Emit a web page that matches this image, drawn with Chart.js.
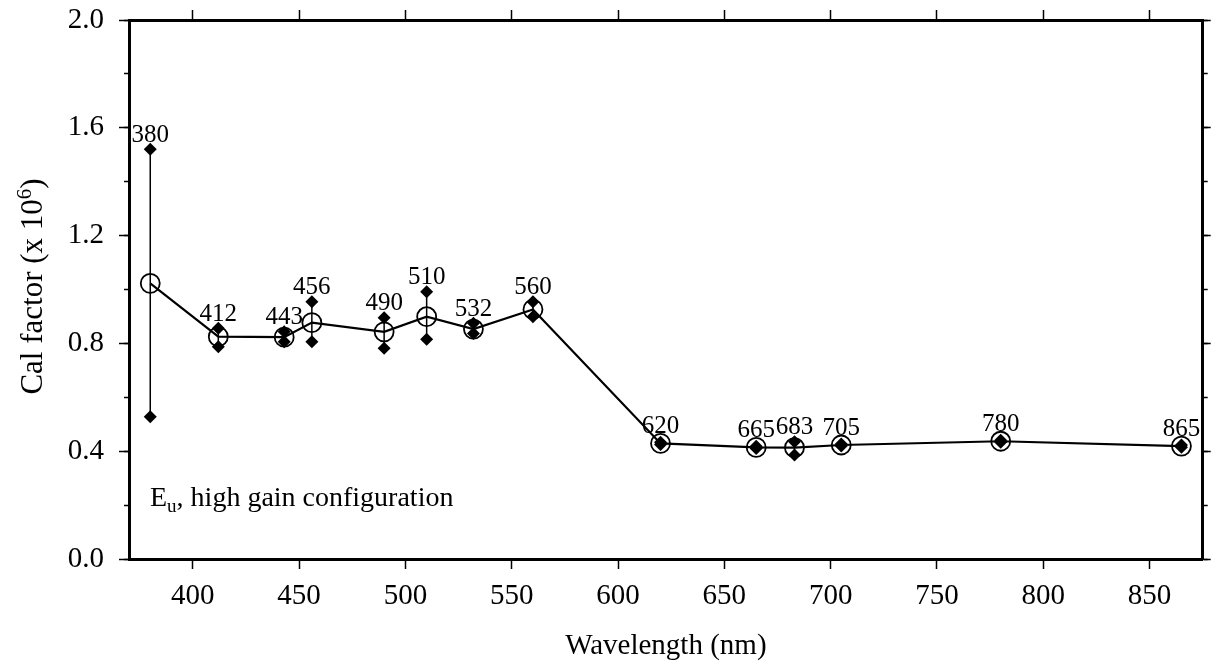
<!DOCTYPE html>
<html><head><meta charset="utf-8">
<script src="https://cdn.jsdelivr.net/npm/chart.js@4/dist/chart.umd.min.js"></script>
<style>html,body{margin:0;padding:0;background:#fff}canvas{display:block}</style>
</head><body>
<canvas id="c" width="1214" height="661"></canvas>
<script>
// ---- data ----
const wavelengths = [380, 412, 443, 456, 490, 510, 532, 560, 620, 665, 683, 705, 780, 865];
const meanCal = [1.023, 0.825, 0.823, 0.877, 0.843, 0.899, 0.853, 0.926, 0.429, 0.414, 0.413, 0.423, 0.437, 0.419];
const maxCal  = [1.520, 0.856, 0.843, 0.955, 0.895, 0.992, 0.875, 0.955, 0.433, 0.418, 0.435, 0.427, 0.441, 0.423];
const minCal  = [0.528, 0.788, 0.806, 0.806, 0.782, 0.815, 0.837, 0.899, 0.425, 0.410, 0.386, 0.419, 0.433, 0.415];
const pointLabels = wavelengths.map(String);
const yTickLabels = ['0.0', '0.4', '0.8', '1.2', '1.6', '2.0'];
const xTitle = 'Wavelength (nm)';
const yTitleParts = ['Cal factor (x 10', '6', ')'];
const noteParts = ['E', 'u', ', high gain configuration'];

const FONT = "'Liberation Serif', 'Times New Roman', serif";
Chart.defaults.font.family = FONT;
Chart.defaults.color = '#000';

const pts = (ys) => wavelengths.map((w, i) => ({ x: w, y: ys[i] }));

const tickGrid = (len) => ({ drawOnChartArea: false, drawTicks: true, tickLength: len, tickWidth: 1.5, tickColor: '#000' });
const noPad = (s) => { s.paddingTop = 0; s.paddingBottom = 0; s.paddingLeft = 0; s.paddingRight = 0; };

const extras = {
  id: 'extras',
  beforeDatasetsDraw(chart) {
    const { ctx } = chart;
    const xs = chart.scales.x, ys = chart.scales.y;
    ctx.save();
    ctx.strokeStyle = '#000';
    ctx.lineWidth = 1.5;
    wavelengths.forEach((w, i) => {
      const px = xs.getPixelForValue(w);
      ctx.beginPath();
      ctx.moveTo(px, ys.getPixelForValue(maxCal[i]));
      ctx.lineTo(px, ys.getPixelForValue(minCal[i]));
      ctx.stroke();
    });
    ctx.restore();
  },
  afterDatasetsDraw(chart) {
    const { ctx } = chart;
    const xs = chart.scales.x, ys = chart.scales.y;
    ctx.save();
    ctx.fillStyle = '#000';
    // wavelength labels above each point
    ctx.font = '25px ' + FONT;
    ctx.textAlign = 'center';
    ctx.textBaseline = 'alphabetic';
    wavelengths.forEach((w, i) => {
      const px = xs.getPixelForValue(w);
      const top = Math.min(ys.getPixelForValue(maxCal[i]) - 6, ys.getPixelForValue(meanCal[i]) - 9);
      ctx.fillText(pointLabels[i], px, top - 1.5);
    });
    // note inside plot
    ctx.textAlign = 'left';
    const nx = chart.chartArea.left + 21, ny = ys.getPixelForValue(0.2) + 0.5;
    ctx.font = '28px ' + FONT;
    ctx.fillText(noteParts[0], nx, ny);
    let off = ctx.measureText(noteParts[0]).width;
    ctx.font = '19px ' + FONT;
    ctx.fillText(noteParts[1], nx + off, ny + 6);
    off += ctx.measureText(noteParts[1]).width;
    ctx.font = '28px ' + FONT;
    ctx.fillText(noteParts[2], nx + off, ny);
    ctx.restore();
  },
  afterDraw(chart) {
    const { ctx } = chart;
    const ca = chart.chartArea;
    ctx.save();
    ctx.fillStyle = '#000';
    ctx.translate(41.5, (ca.top + ca.bottom) / 2 - 3);
    ctx.rotate(-Math.PI / 2);
    ctx.textBaseline = 'alphabetic';
    ctx.textAlign = 'left';
    ctx.font = '31px ' + FONT;
    const w1 = ctx.measureText(yTitleParts[0]).width;
    const w3 = ctx.measureText(yTitleParts[2]).width;
    ctx.font = '21px ' + FONT;
    const w2 = ctx.measureText(yTitleParts[1]).width;
    let x0 = -(w1 + w2 + w3) / 2;
    ctx.font = '31px ' + FONT;
    ctx.fillText(yTitleParts[0], x0, 0);
    ctx.font = '21px ' + FONT;
    ctx.fillText(yTitleParts[1], x0 + w1, -11);
    ctx.font = '31px ' + FONT;
    ctx.fillText(yTitleParts[2], x0 + w1 + w2, 0);
    ctx.restore();
  }
};

new Chart(document.getElementById('c'), {
  type: 'line',
  data: {
    datasets: [
      {
        data: pts(meanCal), xAxisID: 'x', yAxisID: 'y',
        borderColor: '#000', borderWidth: 2.2, tension: 0,
        pointStyle: 'circle', pointRadius: 9.5, pointBorderWidth: 1.8,
        pointBackgroundColor: 'rgba(0,0,0,0)', pointBorderColor: '#000', order: 2
      },
      {
        data: pts(maxCal), xAxisID: 'x', yAxisID: 'y', showLine: false,
        pointStyle: 'rectRot', pointRadius: 6.5, pointBorderWidth: 0,
        pointBackgroundColor: '#000', pointBorderColor: '#000', order: 1
      },
      {
        data: pts(minCal), xAxisID: 'x', yAxisID: 'y', showLine: false,
        pointStyle: 'rectRot', pointRadius: 6.5, pointBorderWidth: 0,
        pointBackgroundColor: '#000', pointBorderColor: '#000', order: 1
      }
    ]
  },
  options: {
    responsive: false,
    devicePixelRatio: 1,
    animation: false,
    layout: { padding: 0 },
    plugins: { legend: { display: false }, tooltip: { enabled: false } },
    scales: {
      x: {
        type: 'linear', position: 'bottom', min: 370, max: 875,
        ticks: { stepSize: 50, includeBounds: false, font: { size: 29 }, color: '#000', padding: 10, maxRotation: 0 },
        grid: tickGrid(10),
        border: { display: true, width: 3, color: '#000' },
        title: { display: true, text: xTitle, font: { size: 29, lineHeight: 1 }, color: '#000', padding: 0 },
        afterFit(s) { s.height = 102; noPad(s); }
      },
      x2: {
        type: 'linear', position: 'top', min: 370, max: 875,
        ticks: { stepSize: 50, includeBounds: false, callback: () => '' },
        grid: tickGrid(10),
        border: { display: true, width: 3, color: '#000' },
        afterFit(s) { s.height = 20; noPad(s); }
      },
      y: {
        type: 'linear', position: 'left', min: 0, max: 2, weight: 1,
        ticks: { stepSize: 0.4, includeBounds: false, font: { size: 29 }, color: '#000', padding: 15,
                 callback: (v, i) => yTickLabels[i] },
        grid: tickGrid(10),
        border: { display: true, width: 3, color: '#000' },
        afterFit(s) { s.width = 129; noPad(s); }
      },
      yMinor: {
        type: 'linear', position: 'left', min: 0, max: 2, weight: 0,
        ticks: { stepSize: 0.2, callback: () => '' },
        grid: tickGrid(5),
        border: { display: false },
        afterFit(s) { s.width = 0; noPad(s); }
      },
      y2: {
        type: 'linear', position: 'right', min: 0, max: 2, weight: 1,
        ticks: { stepSize: 0.4, callback: () => '' },
        grid: tickGrid(8),
        border: { display: true, width: 3, color: '#000' },
        afterFit(s) { s.width = 9; noPad(s); }
      },
      y2Minor: {
        type: 'linear', position: 'right', min: 0, max: 2, weight: 0,
        ticks: { stepSize: 0.2, callback: () => '' },
        grid: tickGrid(5),
        border: { display: false },
        afterFit(s) { s.width = 0; noPad(s); }
      }
    }
  },
  plugins: [extras]
});
</script>
</body></html>
